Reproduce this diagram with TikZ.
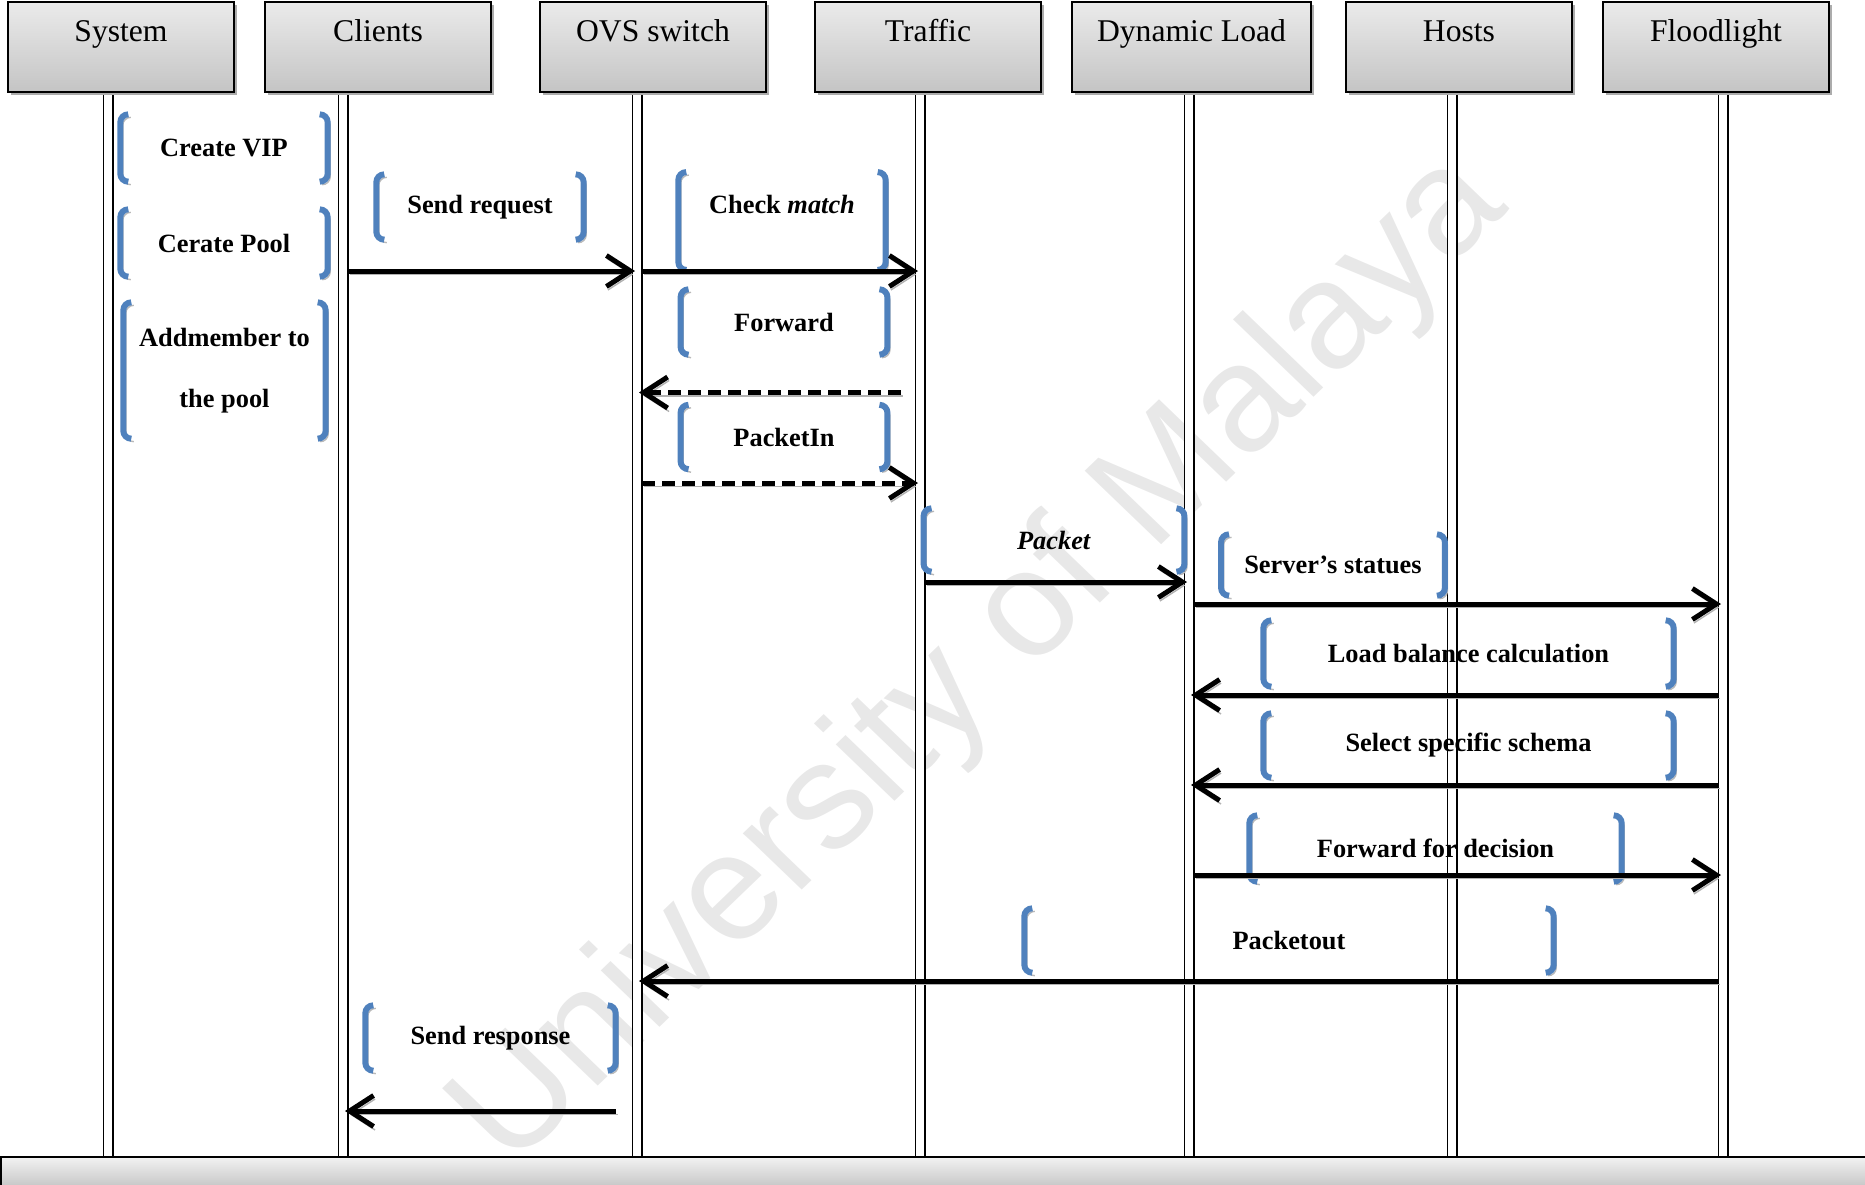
\documentclass[tikz,border=0pt]{standalone}
\usepackage{fontspec}
\setmainfont{Liberation Serif}
\newfontfamily\wmfont{Liberation Sans}
\usepackage{xcolor}
\definecolor{brblue}{RGB}{79,129,189}
\usepackage{tikz}
\usetikzlibrary{arrows.meta,positioning,shadows,calc}

% the pair of round brackets around a step label
\newcommand{\brackets}[1]{%
  \draw[brline] ([xshift=0.8mm]#1.north west) -- (#1.north west) -- (#1.south west) -- ([xshift=0.8mm]#1.south west)
    ([xshift=-0.8mm]#1.north east) -- (#1.north east) -- (#1.south east) -- ([xshift=-0.8mm]#1.south east);}

\begin{document}
\begin{tikzpicture}[
  x=0.1mm, y=-0.1mm,
  head/.style={draw, line width=0.2mm, top color=gray!16, bottom color=gray!46, anchor=north, minimum width=22.6mm, inner sep=0pt, text height=3.9mm, text depth=5.1mm, font=\fontsize{9pt}{11pt}\selectfont, general shadow={fill=gray!65, shadow xshift=0.3mm, shadow yshift=-0.3mm}},
  bar/.style={draw, line width=0.2mm, top color=gray!10, bottom color=gray!45, anchor=north west, minimum width=186.5mm, minimum height=3mm, inner sep=0pt},
  life/.style={double, double distance=0.8mm, line width=0.15mm},
  lbl/.style={font=\fontsize{7.5pt}{9pt}\selectfont\bfseries, align=center, inner sep=0pt},
  brline/.style={draw=brblue, line width=0.6mm, rounded corners=0.8mm, general shadow={draw=gray!55, fill=none, opacity=1, shadow xshift=0.25mm, shadow yshift=-0.3mm}},
  msg/.style={-{Straight Barb[length=2.4mm,width=3.1mm]}, line width=0.5mm, shorten <=0.5mm, shorten >=0.2mm, general shadow={draw=gray!60, fill=none, opacity=1, shadow xshift=0.15mm, shadow yshift=-0.35mm}},
  dmsg/.style={msg, dash pattern=on 1.3mm off 0.7mm},
  wmark/.style={font=\wmfont\fontsize{43pt}{50pt}\selectfont, text=gray!18, anchor=center, xscale=1.04, rotate=45}
]
\useasboundingbox (0,0) rectangle (1865,1184);

\node[wmark] (wm) at (982,662) {University of Malaya};

% lifelines
\coordinate (sysL) at (108,90);
\coordinate (cliL) at (343,90);
\coordinate (ovsL) at (637,90);
\coordinate (trfL) at (920,90);
\coordinate (dynL) at (1189,90);
\coordinate (hstL) at (1452,90);
\coordinate (fldL) at (1723,90);

\node[bar] (bar) at (0,1156) {};
\foreach \ln in {sysL,cliL,ovsL,trfL,dynL,hstL,fldL}
  \draw[life] (\ln) -- (\ln |- bar.north);

% header boxes
\node[head] (sys) at (121,1) {System};
\node[head] (cli) at (378,1) {Clients};
\node[head] (ovs) at (653,1) {OVS switch};
\node[head] (trf) at (928,1) {Traffic};
\node[head, minimum width=23.9mm] (dyn) at (1191.5,1) {Dynamic Load};
\node[head] (hst) at (1459,1) {Hosts};
\node[head] (fld) at (1716,1) {Floodlight};

% steps
\node[lbl, minimum width=20.6mm, minimum height=6.6mm] (vip) at (224,148) {Create VIP};
\node[lbl, minimum width=20.6mm, minimum height=6.6mm] (pool) at (224,243) {Cerate Pool};
\node[lbl, minimum width=20.1mm, minimum height=13.5mm] (addm) at (224.5,370.5) {Addmember to\\[2.9mm]the pool};
\node[lbl, minimum width=20.6mm, minimum height=6.4mm] (sreq) at (480,207) {Send request};
\node[lbl, minimum width=20.6mm, minimum height=9.65mm, text height=4.1mm, text depth=5.55mm] (chk) at (782,221) {Check \textit{match}};
\node[lbl, minimum width=20.55mm, minimum height=6.4mm] (fwd) at (784,322) {Forward};
\node[lbl, minimum width=20.55mm, minimum height=6.3mm] (pin) at (784,437) {PacketIn};
\node[lbl, minimum width=25.95mm, minimum height=6.2mm] (pkt) at (1054,540) {\textit{Packet}};
\node[lbl, minimum width=22.25mm, minimum height=6mm] (srv) at (1333,565) {Server’s statues};
\node[lbl, minimum width=40.9mm, minimum height=6.5mm] (lbc) at (1468.5,653.5) {Load balance calculation};
\node[lbl, minimum width=40.9mm, minimum height=6.3mm] (sel) at (1468.5,745.5) {Select specific schema};
\node[lbl, minimum width=37.1mm, minimum height=6.5mm] (ffd) at (1435.5,848.5) {Forward for decision};
\node[lbl, minimum width=52.8mm, minimum height=6.3mm] (pout) at (1289,940.5) {Packetout};
\node[lbl, minimum width=24.9mm, minimum height=6.4mm] (srsp) at (490.5,1038) {Send response};

\foreach \s in {vip,pool,addm,sreq,chk,fwd,pin,pkt,srv,lbc,sel,ffd,pout,srsp}
  {\brackets{\s}}

% messages
\coordinate (m1) at (0,271);
\coordinate (m2) at (0,392.5);
\coordinate (m3) at (0,483);
\coordinate (m4) at (0,582);
\coordinate (m5) at (0,604);
\coordinate (m6) at (0,695);
\coordinate (m7) at (0,785);
\coordinate (m8) at (0,875);
\coordinate (m9) at (0,981);
\coordinate (m10) at (0,1111);

\draw[msg] (cliL |- m1) -- (ovsL |- m1);
\draw[msg] (ovsL |- m1) -- (trfL |- m1);
\draw[dmsg] ($(trfL |- m2)+(-14,0)$) -- (ovsL |- m2);
\draw[dmsg] (ovsL |- m3) -- (trfL |- m3);
\draw[msg] (trfL |- m4) -- (dynL |- m4);
\draw[msg] (dynL |- m5) -- (fldL |- m5);
\draw[msg] (fldL |- m6) -- (dynL |- m6);
\draw[msg] (fldL |- m7) -- (dynL |- m7);
\draw[msg] (dynL |- m8) -- (fldL |- m8);
\draw[msg] (fldL |- m9) -- (ovsL |- m9);
\draw[msg] ($(ovsL |- m10)+(-16,0)$) -- (cliL |- m10);
\end{tikzpicture}
\end{document}
